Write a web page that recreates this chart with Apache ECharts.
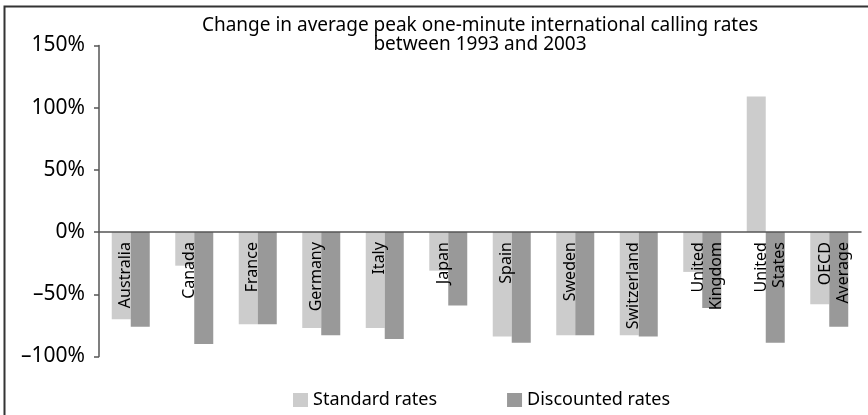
<!DOCTYPE html>
<html>
<head>
<meta charset="utf-8">
<script src="https://cdn.jsdelivr.net/npm/echarts@6/dist/echarts.min.js"></script>
<style>html,body{margin:0;padding:0;background:#fff}#c{width:868px;height:415px}</style>
</head>
<body>
<div id="c"></div>
<script>
const categories = ['Australia','Canada','France','Germany','Italy','Japan','Spain','Sweden','Switzerland','United\nKingdom','United\nStates','OECD\nAverage'];
const standardRates = [-70, -27, -74, -77, -77, -31, -84, -83, -83, -32, 109, -58];
const discountedRates = [-76, -90, -74, -83, -86, -59, -89, -83, -84, -61, -89, -76];
const seriesNames = ['Standard rates', 'Discounted rates'];
const titleLines = ['Change in average peak one-minute international calling rates', 'between 1993 and 2003'];

const FONT = 'Noto Sans';
const Y_MIN = -100, Y_MAX = 150;
const GRID_TOP = 45.5, GRID_BOTTOM = 58.5, H = 415;
const zeroOffset = (H - GRID_TOP - GRID_BOTTOM) * (0 - Y_MIN) / (Y_MAX - Y_MIN);

function catLabel(value) {
  const lines = value.split('\n').map(l => '{n|' + l + '}');
  if (lines.length > 1) return '{s| }\n' + lines.join('\n');
  return lines.join('\n') + '\n{s| }';
}

const chart = echarts.init(document.getElementById('c'), null, {renderer: 'canvas'});
chart.setOption({
  animation: false,
  backgroundColor: '#fff',
  textStyle: {fontFamily: FONT},
  title: {
    text: titleLines.join('\n'),
    left: 480, top: 16, textAlign: 'center', padding: 0,
    textStyle: {fontFamily: FONT, fontSize: 19, fontWeight: 'normal', color: '#000', lineHeight: 19}
  },
  graphic: [{
    type: 'rect', shape: {x: 4.5, y: 6.5, width: 1000, height: 1000},
    style: {fill: 'none', stroke: '#333', lineWidth: 2}, silent: true
  }],
  legend: {
    left: 293, top: 391, padding: 0,
    itemWidth: 15, itemHeight: 14, itemGap: 70,
    icon: 'rect',
    textStyle: {fontFamily: FONT, fontSize: 18, color: '#000'},
    data: seriesNames
  },
  grid: {left: 99, right: 7, top: GRID_TOP, bottom: GRID_BOTTOM, containLabel: false, outerBoundsMode: 'none'},
  xAxis: {
    type: 'category', data: categories, z: 10,
    offset: -zeroOffset,
    axisLine: {onZero: false, lineStyle: {color: '#555', width: 1.5}},
    axisTick: {length: 6, lineStyle: {color: '#555', width: 1.5}},
    axisLabel: {
      rotate: 90, margin: 10, interval: 0, formatter: catLabel,
      rich: {
        n: {fontFamily: FONT, fontSize: 16, color: '#000', lineHeight: 18},
        s: {fontSize: 1, lineHeight: 10}
      }
    }
  },
  yAxis: {
    type: 'value', min: Y_MIN, max: Y_MAX, interval: 50,
    axisLine: {show: true, lineStyle: {color: '#555', width: 1.5}},
    axisTick: {show: true, length: 5, lineStyle: {color: '#555', width: 1.5}},
    splitLine: {show: false},
    axisLabel: {
      margin: 14, fontFamily: FONT, fontSize: 21, color: '#000',
      formatter: v => (v < 0 ? '\u2013' + Math.abs(v) : v) + '%'
    }
  },
  series: [
    {name: seriesNames[0], type: 'bar', data: standardRates, barWidth: 19, barGap: '0%',
     itemStyle: {color: '#cccccc'}},
    {name: seriesNames[1], type: 'bar', data: discountedRates, barWidth: 19, barGap: '0%',
     itemStyle: {color: '#999999'}}
  ]
});
</script>
</body>
</html>
